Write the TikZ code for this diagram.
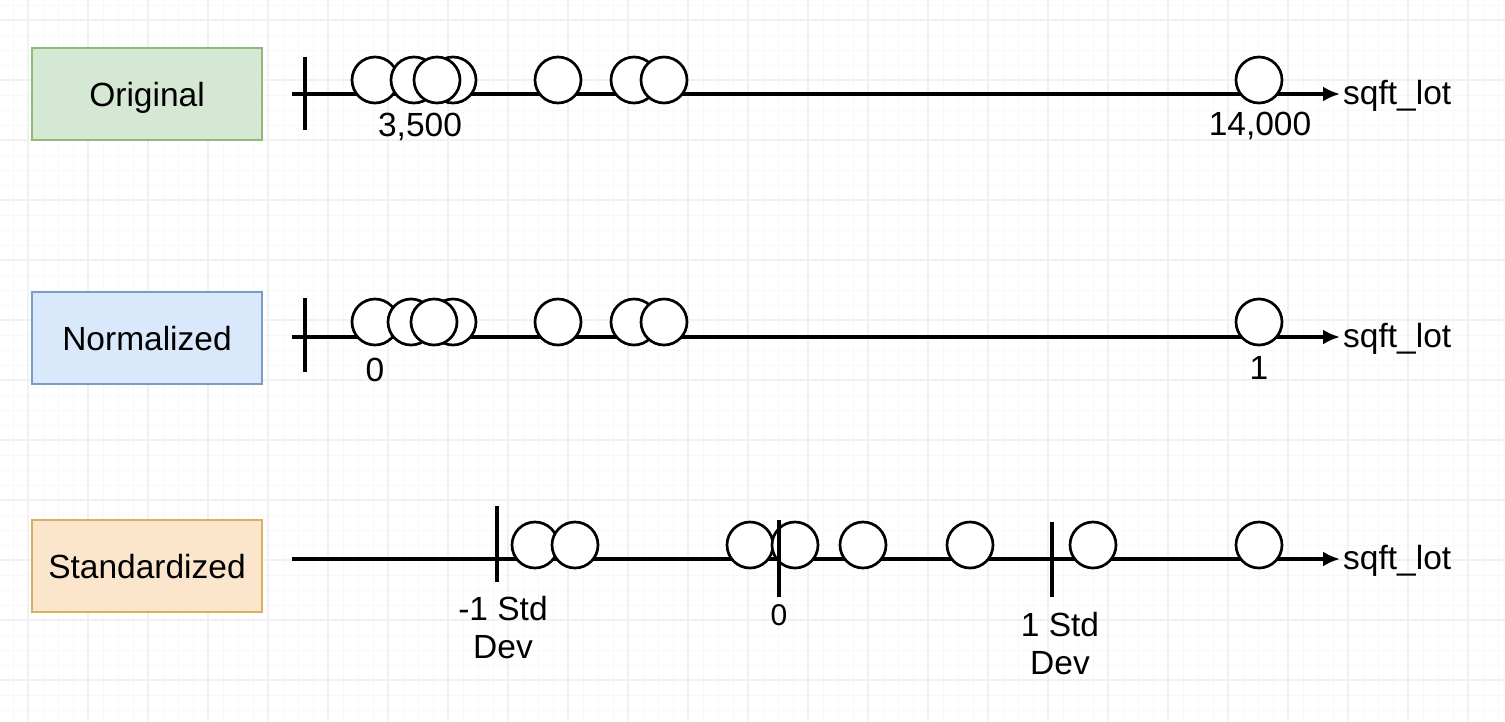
\documentclass[tikz,border=0pt]{standalone}
\usepackage{fontspec}
\setmainfont{Liberation Sans}
\usetikzlibrary{arrows.meta}
\definecolor{origfill}{HTML}{D5E8D4}
\definecolor{origline}{HTML}{8FB97A}
\definecolor{normfill}{HTML}{DAE8FC}
\definecolor{normline}{HTML}{7C9CC8}
\definecolor{stdfill}{HTML}{FBE6CD}
\definecolor{stdline}{HTML}{D9B060}
\definecolor{gridminor}{HTML}{F8F8FA}
\definecolor{gridmajor}{HTML}{F1F1F4}
\begin{document}
\begin{tikzpicture}[x=1pt,y=-1pt,
    every node/.style={font=\fontsize{33.5}{38}\selectfont},
    namebox/.style={draw,line width=2pt,minimum width=230pt,minimum height=92pt,inner sep=0pt,
                    text height=24pt,text depth=0pt},
    axis/.style={line width=3.3pt,-{Latex[length=17pt,width=15pt]}},
    tickline/.style={line width=3.3pt},
    dot/.style={circle,draw,fill=white,line width=2.7pt,minimum size=46pt,inner sep=0pt},
    lbl/.style={inner sep=0pt,align=center}]

    \useasboundingbox[fill=white] (0,0) rectangle (1505,721);

    % background grid
    \foreach \gx in {13,28,...,1505} \draw[gridminor,line width=1pt] (\gx,0) -- (\gx,721);
    \foreach \gy in {5,20,...,721}   \draw[gridminor,line width=1pt] (0,\gy) -- (1505,\gy);
    \foreach \gx in {28,88,...,1505} \draw[gridmajor,line width=1.5pt] (\gx,0) -- (\gx,721);
    \foreach \gy in {20,80,...,721}  \draw[gridmajor,line width=1.5pt] (0,\gy) -- (1505,\gy);

    % row labels
    \node[namebox,fill=origfill,draw=origline] (original)     at (147, 94) {Original};
    \node[namebox,fill=normfill,draw=normline] (normalized)   at (147,338) {Normalized};
    \node[namebox,fill=stdfill, draw=stdline ] (standardized) at (147,566) {Standardized};

    % original
    \coordinate (o-start) at ( 292, 94);
    \coordinate (o-end)   at (1340, 94);
    \coordinate (o-top)   at ( 305, 57);
    \coordinate (o-bot)   at ( 305,130);
    \draw[axis] (o-start) -- (o-end);
    \draw[tickline] (o-top) -- (o-bot);
    \foreach \x [count=\i] in {375,414,453,437,558,634,664,1259}
        \node[dot] (o\i) at (\x,80) {};
    \node[lbl,anchor=west] (o-name) at (1343,96) {sqft\_lot};
    \node[lbl,anchor=base] (o-min)  at ( 420,136) {3,500};
    \node[lbl,anchor=base] (o-max)  at (1260,135) {14,000};

    % normalized
    \coordinate (n-start) at ( 292,337);
    \coordinate (n-end)   at (1340,337);
    \coordinate (n-top)   at ( 305,298);
    \coordinate (n-bot)   at ( 305,372);
    \draw[axis] (n-start) -- (n-end);
    \draw[tickline] (n-top) -- (n-bot);
    \foreach \x [count=\i] in {375,411,453,434,558,634,664,1259}
        \node[dot] (n\i) at (\x,322) {};
    \node[lbl,anchor=west] (n-name) at (1343,339) {sqft\_lot};
    \node[lbl,anchor=base] (n-min)  at ( 375,381) {0};
    \node[lbl,anchor=base] (n-max)  at (1259,379) {1};

    % standardized
    \coordinate (s-start) at ( 292,559);
    \coordinate (s-end)   at (1340,559);
    \coordinate (s-lo-top)  at ( 497,506);
    \coordinate (s-lo-bot)  at ( 497,582);
    \coordinate (s-mid-top) at ( 779,520);
    \coordinate (s-mid-bot) at ( 779,597);
    \coordinate (s-hi-top)  at (1052,522);
    \coordinate (s-hi-bot)  at (1052,597);
    \draw[axis] (s-start) -- (s-end);
    \draw[tickline] (s-lo-top) -- (s-lo-bot);
    \draw[tickline] (s-hi-top) -- (s-hi-bot);
    \foreach \x [count=\i] in {535,575,750,795,863,970,1093,1259}
        \node[dot] (s\i) at (\x,545) {};
    \draw[tickline] (s-mid-top) -- (s-mid-bot);
    \node[lbl,anchor=west] (s-name) at (1343,561) {sqft\_lot};
    \node[lbl] (s-lo)  at ( 503,628) {-1 Std\\Dev};
    \node[lbl,anchor=base,font=\fontsize{30}{34}\selectfont] (s-mid) at (779,625) {0};
    \node[lbl] (s-hi)  at (1060,644) {1 Std\\Dev};
\end{tikzpicture}
\end{document}
